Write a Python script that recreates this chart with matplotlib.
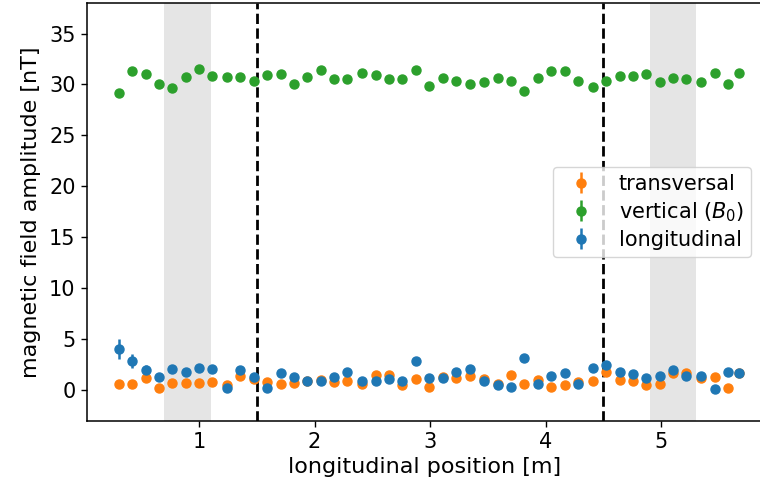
import numpy as np
import matplotlib
matplotlib.use("Agg")
import matplotlib.pyplot as plt

# longitudinal positions of the probe [m]
position = [0.306, 0.421, 0.538, 0.653, 0.768, 0.885, 1.000, 1.115, 1.243, 1.358,
            1.475, 1.590, 1.705, 1.822, 1.937, 2.052, 2.169, 2.284, 2.414, 2.530,
            2.646, 2.761, 2.877, 2.993, 3.111, 3.227, 3.343, 3.470, 3.586, 3.701,
            3.817, 3.933, 4.048, 4.164, 4.280, 4.410, 4.525, 4.642, 4.757, 4.873,
            4.989, 5.104, 5.220, 5.347, 5.463, 5.579, 5.671]

# field amplitudes [nT]
transversal = [0.65, 0.60, 1.15, 0.23, 0.75, 0.75, 0.70, 0.78, 0.49, 1.44,
               1.10, 0.82, 0.65, 0.75, 0.90, 0.98, 0.82, 0.88, 0.60, 1.47,
               1.47, 0.49, 1.05, 0.36, 1.31, 1.15, 1.41, 1.05, 0.65, 1.47,
               0.65, 0.98, 0.33, 0.49, 0.82, 0.92, 1.80, 0.98, 0.88, 0.49,
               0.65, 1.64, 1.64, 1.24, 1.31, 0.23, 1.65]
vertical = [29.21, 31.30, 31.00, 30.00, 29.70, 30.75, 31.55, 30.88, 30.78, 30.78,
            30.36, 30.91, 31.00, 30.09, 30.78, 31.40, 30.52, 30.52, 31.14, 30.91,
            30.52, 30.52, 31.40, 29.87, 30.65, 30.36, 30.09, 30.22, 30.65, 30.36,
            29.34, 30.65, 31.30, 31.30, 30.36, 29.73, 30.36, 30.88, 30.88, 31.00,
            30.22, 30.65, 30.49, 30.22, 31.14, 30.09, 31.14]
longitudinal = [4.06, 2.88, 1.96, 1.28, 2.06, 1.80, 2.19, 2.06, 0.26, 1.96,
                1.25, 0.26, 1.70, 1.31, 0.88, 0.94, 1.31, 1.80, 0.95, 0.90,
                1.08, 0.88, 2.88, 1.15, 1.15, 1.80, 2.06, 0.88, 0.49, 0.33,
                3.11, 0.65, 1.41, 1.70, 0.56, 2.19, 2.52, 1.80, 1.54, 1.15,
                1.41, 1.96, 1.41, 1.41, 0.16, 1.80, 1.70]

# uncertainties [nT]
transversal_err = [0.15] * len(position)
vertical_err = [0.2] * len(position)
longitudinal_err = [1.0, 0.7, 0.5] + [0.2] * (len(position) - 3)

shielded = [(0.7, 1.1), (4.9, 5.3)]
boundaries = [1.5, 4.5]

fig = plt.figure(figsize=(7.6, 4.95), dpi=100)
ax = fig.add_axes([0.114, 0.150, 0.888, 0.844])

for lo, hi in shielded:
    ax.axvspan(lo, hi, color="gray", alpha=0.2, lw=0)
for xb in boundaries:
    ax.axvline(xb, color="k", ls="--", lw=2)

ax.errorbar(position, transversal, yerr=transversal_err, fmt="o", ms=6.5,
            elinewidth=1.8, color="tab:orange", label="transversal")
ax.errorbar(position, vertical, yerr=vertical_err, fmt="o", ms=6.5,
            elinewidth=1.8, color="tab:green", label="vertical ($B_0$)")
ax.errorbar(position, longitudinal, yerr=longitudinal_err, fmt="o", ms=6.5,
            elinewidth=1.8, color="tab:blue", label="longitudinal")

ax.set_xlim(0.026, 5.87)
ax.set_ylim(-3, 38)
ax.set_xticks([1, 2, 3, 4, 5])
ax.set_yticks(np.arange(0, 36, 5))
ax.tick_params(labelsize=15, length=4.5, width=1)
for sp in ax.spines.values():
    sp.set_linewidth(1.1)
ax.set_xlabel("longitudinal position [m]", fontsize=16)
ax.set_ylabel("magnetic field amplitude [nT]", fontsize=16, labelpad=6)
ax.legend(loc="center right", fontsize=15, labelspacing=0.3, borderpad=0.35,
          handletextpad=0.8)

fig.savefig("out.png", dpi=100)
